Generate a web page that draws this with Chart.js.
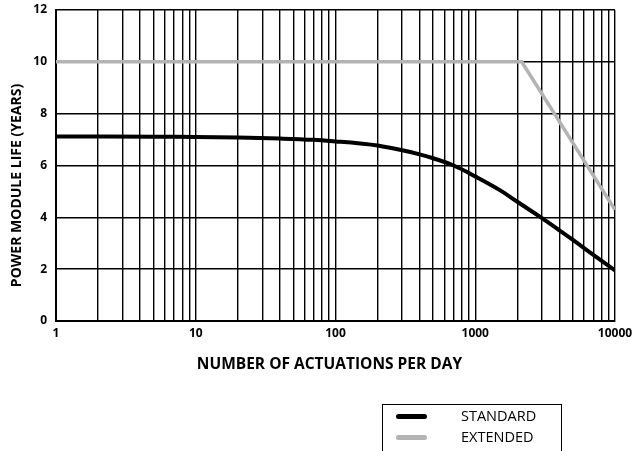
<!DOCTYPE html>
<html>
<head>
<meta charset="utf-8">
<script src="https://cdn.jsdelivr.net/npm/chart.js@4/dist/chart.umd.min.js"></script>
<style>
    body { margin: 0; background: #fff; }
    #wrap { position: relative; width: 634px; height: 451px; overflow: hidden; }
    #legend {
        position: absolute; left: 382px; top: 404px; width: 178px; height: 60px;
        border: 1.5px solid #000; font-family: "Open Sans", sans-serif; font-size: 14.5px; color: #000;
    }
    #legend .item { position: absolute; left: 0; height: 18px; line-height: 18px; }
    #legend .swatch { position: absolute; left: 13px; top: 7px; width: 31px; height: 4.5px; border-radius: 2.5px; }
    #legend .text { position: absolute; left: 78px; white-space: nowrap; }
</style>
</head>
<body>
<div id="wrap">
    <canvas id="chartPower" width="634" height="451"></canvas>
    <div id="legend"></div>
</div>
<script>
// actuations per day (log axis)
const standardX = [1, 5, 10, 20, 40, 70, 100, 150, 200, 300, 400, 500, 700, 1000, 1500, 2000, 3000, 4000, 5000, 7000, 10000];
const standardY = [7.12, 7.11, 7.1, 7.08, 7.04, 6.99, 6.93, 6.85, 6.77, 6.59, 6.43, 6.28, 6.0, 5.58, 5.05, 4.6, 3.97, 3.5, 3.13, 2.55, 1.95];
const extendedX = [1, 2150, 10000];
const extendedY = [10, 10, 4.29];
const xLabels = [1, 10, 100, 1000, 10000];
const yLabels = [0, 2, 4, 6, 8, 10, 12];
const seriesNames = ['STANDARD', 'EXTENDED'];

const ctxchartPower = document.getElementById('chartPower');

function toPoints(xs, ys) {
    return xs.map(function (x, i) { return { x: x, y: ys[i] }; });
}

// grid lines at 1..9 of each decade
var xGrid = [];
for (var d = 0; d < xLabels.length - 1; d++) {
    for (var m = 1; m < 10; m++) {
        xGrid.push(m * xLabels[d]);
    }
}
xGrid.push(xLabels[xLabels.length - 1]);

const boldFont = { family: '"Open Sans", sans-serif', size: 12, weight: 'bold' };

const config = {
    type: 'line',
    data: {
        datasets: [{
            label: seriesNames[0],
            data: toPoints(standardX, standardY),
            borderColor: '#000000',
            borderWidth: 4,
            pointRadius: 0,
            tension: 0.4
        }, {
            label: seriesNames[1],
            data: toPoints(extendedX, extendedY),
            borderColor: '#b3b3b3',
            borderWidth: 3.5,
            pointRadius: 0,
            tension: 0
        }]
    },
    options: {
        responsive: false,
        animation: false,
        layout: { padding: { top: 10, right: 19, bottom: 77, left: 9 } },
        plugins: { legend: { display: false }, tooltip: { enabled: false } },
        scales: {
            x: {
                type: 'logarithmic',
                min: 1,
                max: 10000,
                afterBuildTicks: function (scale) {
                    scale.ticks = xGrid.map(function (v) { return { value: v }; });
                },
                afterFit: function (scale) {
                    scale.height = 53;
                    scale.paddingRight = 0;
                },
                ticks: {
                    autoSkip: false,
                    maxRotation: 0,
                    padding: 5,
                    color: '#000',
                    font: boldFont,
                    callback: function (value) {
                        return xLabels.indexOf(value) >= 0 ? String(value) : '';
                    }
                },
                grid: { color: '#000', lineWidth: 1.4, drawTicks: false },
                border: { color: '#000', width: 2 },
                title: {
                    display: true,
                    text: 'NUMBER OF ACTUATIONS PER DAY' + '\u00a0'.repeat(3),
                    color: '#000',
                    font: { family: '"Open Sans", sans-serif', size: 15.5, weight: 'bold' },
                    padding: 0
                }
            },
            y: {
                min: 0,
                max: 12,
                afterBuildTicks: function (scale) {
                    scale.ticks = yLabels.map(function (v) { return { value: v }; });
                },
                afterFit: function (scale) {
                    scale.width = 47;
                    scale.paddingTop = 0;
                },
                ticks: { padding: 9, color: '#000', font: boldFont },
                grid: { color: '#000', lineWidth: 1.4, drawTicks: false },
                border: { color: '#000', width: 2 },
                title: {
                    display: true,
                    text: 'POWER MODULE LIFE (YEARS)' + '\u00a0'.repeat(11),
                    color: '#000',
                    font: { family: '"Open Sans", sans-serif', size: 14, weight: 'bold' },
                    padding: 0
                }
            }
        }
    }
};

var chartPower = new Chart(ctxchartPower, config);

// legend box below the chart, built from the datasets
var legendEl = document.getElementById('legend');
chartPower.data.datasets.forEach(function (ds, i) {
    var item = document.createElement('div');
    item.className = 'item';
    item.style.top = (2 + i * 21) + 'px';
    item.style.width = '100%';
    item.innerHTML = '<span class="swatch" style="background:' + ds.borderColor + '"></span>' +
        '<span class="text">' + ds.label + '</span>';
    legendEl.appendChild(item);
});
</script>
</body>
</html>
